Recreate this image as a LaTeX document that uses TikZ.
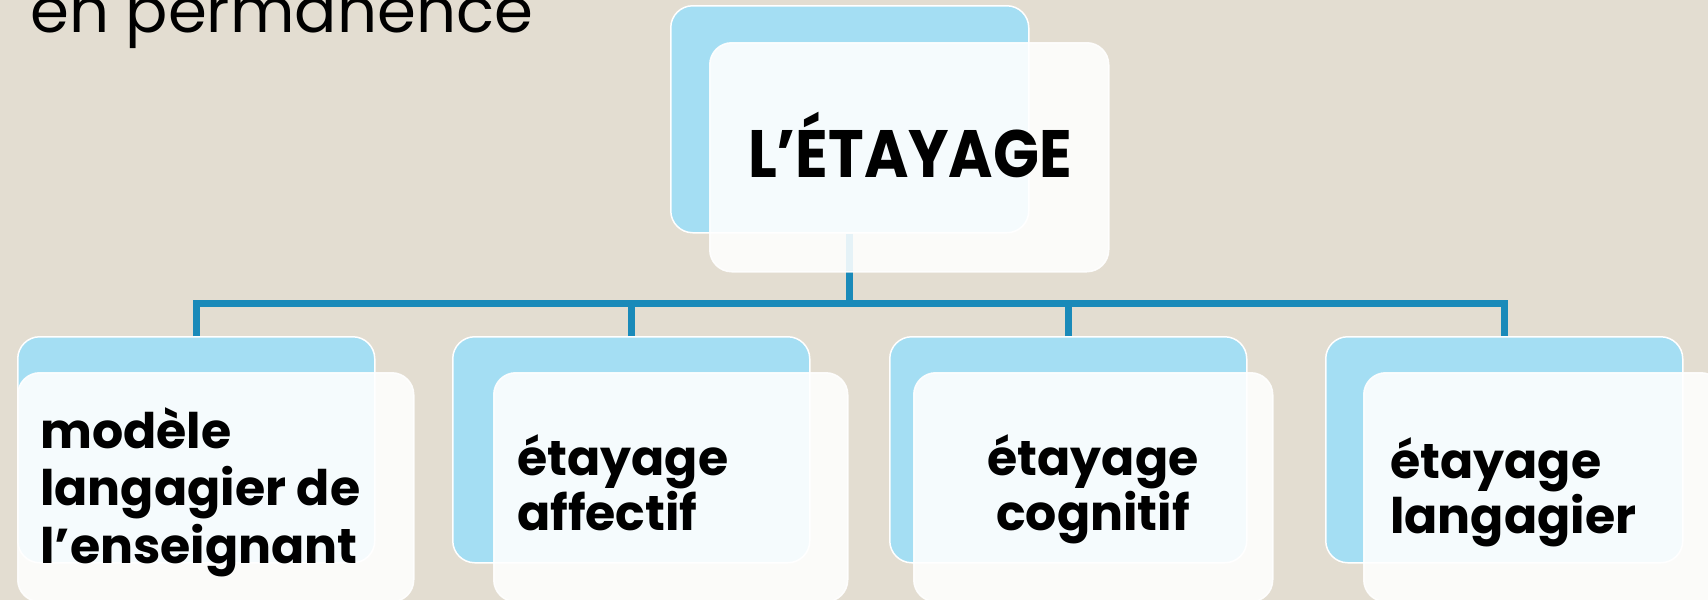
\documentclass[tikz,border=0pt]{standalone}
\usepackage{fontspec}
\setmainfont{Poppins}
\definecolor{bg}{RGB}{227,221,209}
\definecolor{lblue}{RGB}{164,222,243}
\definecolor{conn}{RGB}{26,138,185}
\tikzset{
  bluebox/.style={draw=white, line width=1.5pt, fill=lblue, rounded corners=22pt, rectangle, anchor=north west, inner sep=0pt},
  whitebox/.style={draw=white, line width=1.5pt, fill=white, fill opacity=0.89, draw opacity=0.9, rounded corners=22pt, rectangle, anchor=north west, inner sep=0pt},
  connline/.style={draw=conn, line width=7pt, line join=miter},
  lbl/.style={font=\bfseries\fontsize{49}{55}\selectfont, inner sep=0pt, text=black},
}
\begin{document}
\begin{tikzpicture}[x=1pt,y=-1pt]
\useasboundingbox (0,0) rectangle (1708,600);
\clip (0,0) rectangle (1708,600);
\fill[bg] (0,0) rectangle (1708,600);
\node[anchor=base west, inner sep=0pt, font=\fontsize{62}{66}\selectfont] (title) at (30,32) {\scalebox{1.01}[1]{en permanence}};
% blue boxes
\node[bluebox, minimum width=358pt, minimum height=227pt] (tb) at (670,5) {};
\node[bluebox, minimum width=357pt, minimum height=226pt] (b1) at (17,336) {};
\node[bluebox, minimum width=357pt, minimum height=226pt] (b2) at (452,336) {};
\node[bluebox, minimum width=357pt, minimum height=226pt] (b3) at (889,336) {};
\node[bluebox, minimum width=357pt, minimum height=226pt] (b4) at (1325,336) {};
\coordinate (hub) at (849,303);
% connectors
\draw[connline] (b1.north) -- (b1.north |- hub) -- (b4.north |- hub) -- (b4.north);
\draw[connline] (tb.south) -- (tb.south |- hub);
\draw[connline] (b2.north) -- (b2.north |- hub);
\draw[connline] (b3.north) -- (b3.north |- hub);
% white boxes
\node[whitebox, minimum width=399pt, minimum height=229pt] (tw) at (709,42) {};
\node[whitebox, minimum width=396pt, minimum height=229pt] (w1) at (17,372) {};
\node[whitebox, minimum width=354pt, minimum height=229pt] (w2) at (493,372) {};
\node[whitebox, minimum width=359pt, minimum height=229pt] (w3) at (913,372) {};
\node[whitebox, minimum width=359pt, minimum height=229pt] (w4) at (1363,372) {};
% texts
\node[inner sep=0pt, anchor=base, font=\bfseries\fontsize{67}{70}\selectfont] (t0) at (910,177) {\scalebox{0.9}[1]{L’ÉTAYAGE}};
\node[lbl, font=\bfseries\fontsize{49}{57.5}\selectfont, anchor=base west, align=left] (t1) at (40,563) {modèle\\langagier de\\l’enseignant};
\node[lbl, anchor=base west, align=left] (t2) at (517,530) {étayage\\affectif};
\node[lbl, anchor=base, align=center] (t3) at (1093,530) {étayage\\cognitif};
\node[lbl, anchor=base west, align=left] (t4) at (1390,533) {étayage\\langagier};
\end{tikzpicture}
\end{document}
